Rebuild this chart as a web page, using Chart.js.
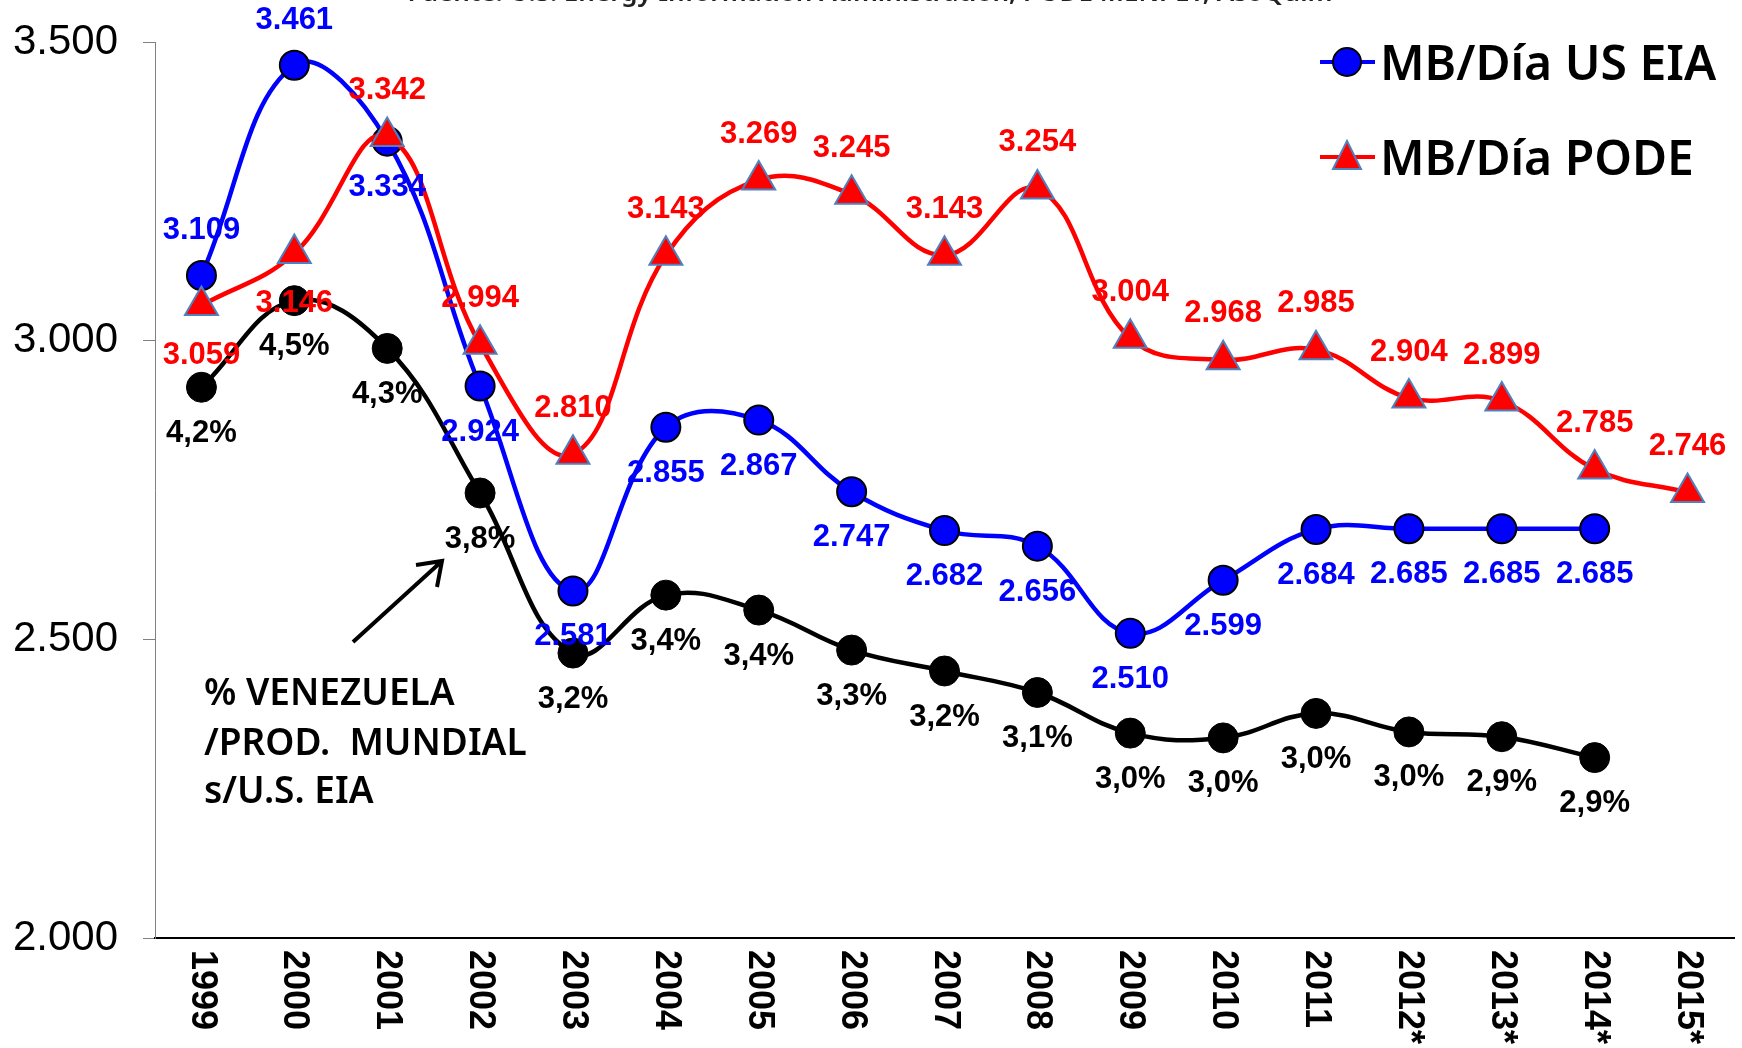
<!DOCTYPE html>
<html>
<head>
<meta charset="utf-8">
<script src="https://cdn.jsdelivr.net/npm/chart.js@4.4.0/dist/chart.umd.min.js"></script>
<style>
  html, body { margin: 0; padding: 0; background: #fff; }
</style>
</head>
<body>
<canvas id="chart" width="1742" height="1048"></canvas>
<script>
const years = ['1999', '2000', '2001', '2002', '2003', '2004', '2005', '2006', '2007',
  '2008', '2009', '2010', '2011', '2012*', '2013*', '2014*', '2015*']

// MB/Día US EIA
const eiaValues = [3109, 3461, 3334, 2924, 2581, 2855, 2867, 2747, 2682,
  2656, 2510, 2599, 2684, 2685, 2685, 2685, null]

// MB/Día PODE
const podeValues = [3059, 3146, 3342, 2994, 2810, 3143, 3269, 3245, 3143,
  3254, 3004, 2968, 2985, 2904, 2899, 2785, 2746]

const shareLevels = [2922, 3067, 2987, 2745, 2477, 2574, 2549, 2482, 2447,
  2411, 2343, 2335, 2376, 2345, 2337, 2302, null]
const shareLabels = ['4,2%', '4,5%', '4,3%', '3,8%', '3,2%', '3,4%', '3,4%', '3,3%', '3,2%',
  '3,1%', '3,0%', '3,0%', '3,0%', '3,0%', '2,9%', '2,9%', '']

const yTicks = [2000, 2500, 3000, 3500]

const fmt = v => (v / 1000).toFixed(3)

const labelFont = 'bold 31px "Liberation Sans", Arial, sans-serif'
const textFont = '"Noto Sans", sans-serif'

/* value labels, legend, x labels and the note are drawn here */
const extras = {
  id: 'extras',
  afterDatasetsDraw(chart) {
    const ctx = chart.ctx
    ctx.save()
    ctx.textAlign = 'center'
    ctx.textBaseline = 'middle'
    ctx.font = labelFont
    chart.data.datasets.forEach((ds, i) => {
      const meta = chart.getDatasetMeta(i)
      meta.data.forEach((pt, j) => {
        if (ds.data[j] == null) return
        ctx.fillStyle = ds.labelColor
        ctx.fillText(ds.labelText(j), pt.x, pt.y + ds.labelDy(j))
      })
    })

    // x labels, turned clockwise
    const xs = chart.scales.x
    ctx.fillStyle = '#000'
    ctx.font = 'bold 36px "Liberation Sans", Arial, sans-serif'
    ctx.textAlign = 'left'
    years.forEach((y, i) => {
      ctx.save()
      ctx.translate(xs.getPixelForTick(i), xs.top + 12)
      ctx.rotate(Math.PI / 2)
      ctx.fillText(y, 0, 0)
      ctx.restore()
    })

    // legend
    const legend = [
      { text: 'MB/Día US EIA', color: '#0000ff', y: 62, style: 'circle' },
      { text: 'MB/Día PODE', color: '#ff0000', y: 157, style: 'triangle' }
    ]
    legend.forEach(item => {
      ctx.strokeStyle = item.color
      ctx.lineWidth = 4
      ctx.beginPath()
      ctx.moveTo(1320, item.y)
      ctx.lineTo(1375, item.y)
      ctx.stroke()
      ctx.fillStyle = item.color
      ctx.lineWidth = 2
      ctx.beginPath()
      if (item.style == 'circle') {
        ctx.strokeStyle = '#000'
        ctx.arc(1347, item.y, 14, 0, Math.PI * 2)
      } else {
        ctx.strokeStyle = '#4f81bd'
        ctx.moveTo(1347, item.y - 16)
        ctx.lineTo(1361, item.y + 12)
        ctx.lineTo(1333, item.y + 12)
        ctx.closePath()
      }
      ctx.fill()
      ctx.stroke()
      ctx.fillStyle = '#000'
      ctx.font = '600 48px ' + textFont
      ctx.textBaseline = 'alphabetic'
      ctx.fillText(item.text, 1380, item.y + 18)
    })

    // note + arrow
    ctx.font = '600 37px ' + textFont
    ctx.fillText('% VENEZUELA', 204, 705)
    ctx.fillText('/PROD.  MUNDIAL', 204, 755)
    ctx.fillText('s/U.S. EIA', 204, 803)
    ctx.strokeStyle = '#000'
    ctx.lineWidth = 4
    ctx.beginPath()
    ctx.moveTo(353, 642)
    ctx.lineTo(442, 561)
    ctx.moveTo(416, 565)
    ctx.lineTo(442, 561)
    ctx.lineTo(437, 587)
    ctx.stroke()

    // source line, cut by the top edge
    ctx.font = '600 26px ' + textFont
    ctx.textAlign = 'center'
    ctx.fillStyle = '#222'
    ctx.fillText('Fuente: U.S. Energy Information Administration, PODE MENPET, AsoQuim', 870, 1)
    ctx.restore()
  }
}

const chartContainer = document.getElementById('chart')

const myChart = new Chart(chartContainer, {
  type: 'line',
  data: {
    labels: years,
    datasets: [{
        label: 'MB/Día PODE',
        data: podeValues,
        borderColor: '#ff0000',
        borderWidth: 4.5,
        pointStyle: 'triangle',
        pointRadius: 19,
        pointHoverRadius: 19,
        pointBackgroundColor: '#ff0000',
        pointBorderColor: '#4f81bd',
        pointBorderWidth: 2,
        labelColor: '#ff0000',
        labelText: j => fmt(podeValues[j]),
        labelDy: j => j < 2 ? 50 : -46,
      },
      {
        label: 'MB/Día US EIA',
        data: eiaValues,
        borderColor: '#0000ff',
        borderWidth: 4.5,
        pointStyle: 'circle',
        pointRadius: 14.5,
        pointHoverRadius: 14.5,
        pointBackgroundColor: '#0000ff',
        pointBorderColor: '#000',
        pointBorderWidth: 2,
        labelColor: '#0000ff',
        labelText: j => fmt(eiaValues[j]),
        labelDy: j => j < 2 ? -45 : 46,
      },
      {
        label: '% Venezuela',
        data: shareLevels,
        borderColor: '#000',
        borderWidth: 4.5,
        pointStyle: 'circle',
        pointRadius: 15,
        pointHoverRadius: 15,
        pointBackgroundColor: '#000',
        pointBorderColor: '#000',
        pointBorderWidth: 1,
        labelColor: '#000',
        labelText: j => shareLabels[j],
        labelDy: j => 46,
      }
    ]
  },
  options: {
    responsive: false,
    animation: false,
    devicePixelRatio: 1,
    clip: false,
    elements: {
      line: { tension: 0.4 }
    },
    layout: {
      autoPadding: false,
      padding: { top: 42, right: 8, left: 0, bottom: 0 }
    },
    plugins: {
      legend: { display: false },
      tooltip: { enabled: false }
    },
    scales: {
      x: {
        offset: true,
        grid: { display: false },
        border: { color: '#000', width: 2 },
        ticks: { display: false },
        afterFit: s => { s.height = 110 }
      },
      y: {
        min: 2000,
        max: 3500,
        afterBuildTicks: s => { s.ticks = yTicks.map(v => ({ value: v })) },
        grid: { drawOnChartArea: false, drawTicks: true, tickLength: 12, color: '#808080' },
        border: { color: '#808080', width: 1 },
        ticks: {
          color: '#000',
          padding: 25,
          font: { family: '"Liberation Sans", Arial, sans-serif', size: 42 },
          callback: v => fmt(v)
        },
        afterFit: s => {
          s.width = 155
          s.paddingTop = 0
          s.paddingBottom = 0
        }
      }
    }
  },
  plugins: [extras]
})
</script>
</body>
</html>
